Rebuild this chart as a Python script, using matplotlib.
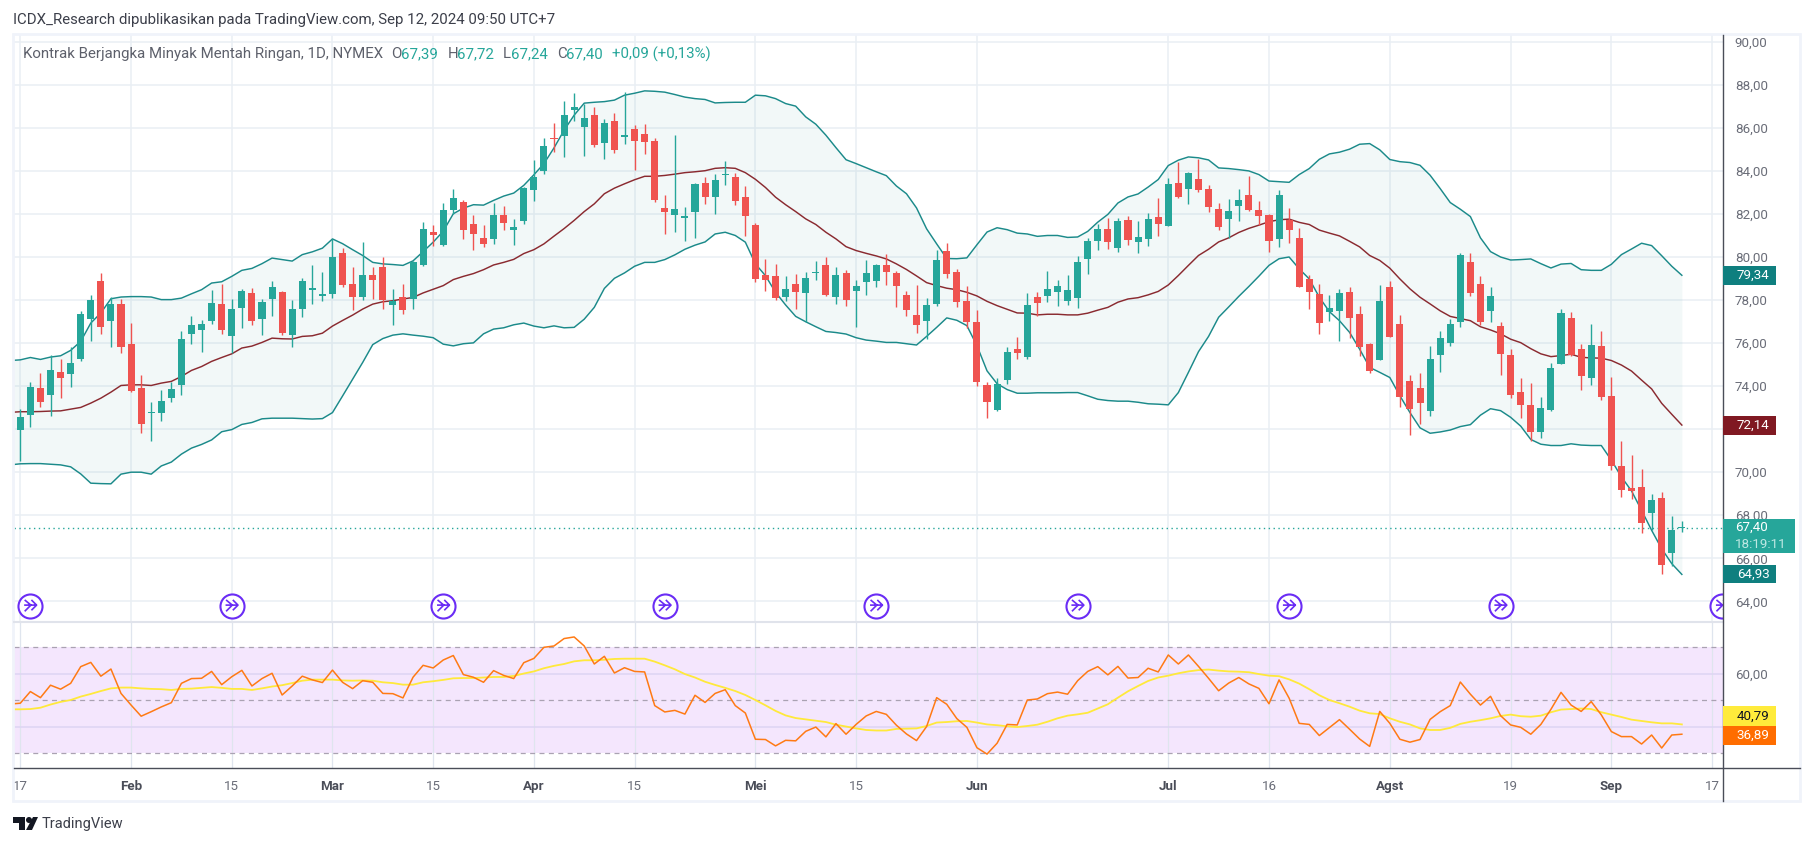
import matplotlib
matplotlib.use('Agg')
import matplotlib.pyplot as plt
from matplotlib.patches import Rectangle, Polygon, Circle
from matplotlib.path import Path

plt.rcParams['font.family'] = ['Roboto', 'DejaVu Sans']

opens = [71.98,72.68,73.92,73.57,74.67,74.54,75.27,77.10,78.90,77.01,
         77.83,75.97,73.92,72.75,72.73,73.47,74.03,76.40,76.59,77.01,
         77.83,76.31,77.61,78.34,77.10,78.06,78.39,76.36,77.60,78.46,
         78.18,78.28,80.19,78.75,78.14,79.16,79.54,77.77,78.14,78.06,
         79.63,81.17,80.56,82.19,82.57,81.54,80.89,80.84,81.96,81.26,
         81.68,83.12,84.01,85.50,85.64,86.85,86.06,86.62,85.31,86.34,
         85.59,85.97,85.73,85.41,82.29,81.96,81.82,82.10,83.45,82.80,
         83.80,83.73,82.80,81.49,79.16,79.12,78.14,78.75,78.33,79.24,
         79.63,78.14,79.26,78.42,78.84,78.89,79.63,79.26,78.24,77.31,
         77.03,77.82,80.29,79.31,77.96,76.98,74.05,72.88,74.28,75.72,
         75.35,78.15,78.19,78.38,77.96,78.10,79.92,80.75,81.31,80.43,
         81.73,80.71,80.85,81.87,81.45,83.46,83.18,83.64,83.18,82.25,
         81.78,82.39,82.90,82.20,81.97,80.85,81.73,80.89,78.98,78.29,
         77.45,77.49,78.38,77.35,75.96,75.21,78.61,76.89,74.23,73.91,
         72.84,75.44,76.00,76.98,79.78,78.75,77.49,76.80,75.45,73.73,
         73.12,71.86,72.89,75.03,77.17,75.73,74.38,75.87,73.54,70.28,
         69.25,69.30,68.09,68.79,66.23,67.39]
highs = [72.95,74.20,74.60,75.44,75.27,75.83,77.50,78.25,79.27,78.16,
         78.06,76.95,74.53,73.27,73.83,74.20,76.57,77.27,77.09,78.48,
         78.76,78.06,78.53,78.57,78.06,78.90,78.42,78.02,79.02,79.63,
         79.30,80.84,80.42,79.54,80.70,79.54,80.00,78.51,78.75,79.80,
         81.63,81.49,82.52,83.17,82.66,81.96,81.49,82.52,82.38,81.77,
         83.25,84.52,85.55,86.25,87.27,87.64,87.13,86.99,86.43,86.67,
         87.69,86.15,86.20,85.55,82.89,85.69,82.33,83.45,83.73,83.87,
         84.48,83.92,83.31,81.59,79.91,79.68,79.12,79.21,79.30,79.82,
         80.00,79.54,79.40,78.93,79.86,79.68,80.14,79.35,78.42,78.70,
         78.10,80.34,80.66,79.45,78.66,77.54,74.19,74.37,75.82,76.28,
         78.33,78.38,79.36,78.94,79.17,80.06,80.89,81.55,81.83,81.83,
         81.92,81.69,82.06,82.76,83.69,84.43,83.97,84.57,83.36,82.52,
         82.71,83.18,83.78,82.61,82.00,83.13,82.29,81.36,79.17,78.75,
         78.24,78.52,78.61,77.73,76.00,78.70,78.89,77.31,74.51,74.61,
         75.86,76.56,77.12,80.20,80.20,79.12,78.61,76.99,75.73,74.38,
         74.15,73.49,75.08,77.59,77.45,75.96,76.89,76.57,74.43,71.44,
         70.79,70.14,68.98,69.07,67.95,67.72]
lows = [70.54,72.12,73.01,72.59,73.43,73.94,75.19,76.08,76.40,75.84,
        75.52,73.71,71.80,71.43,72.40,73.24,73.57,75.94,75.57,76.87,
        76.40,75.52,76.68,76.82,76.36,77.24,76.36,75.84,77.22,77.83,
        77.97,78.11,78.61,77.53,78.00,78.05,77.58,76.84,77.35,77.58,
        79.58,80.52,80.53,82.01,80.84,80.33,80.47,80.61,81.26,80.56,
        81.54,82.61,83.87,84.89,84.66,86.34,84.71,85.13,84.57,84.85,
        85.27,84.06,84.80,82.57,81.07,81.17,80.75,80.89,82.47,82.01,
        83.36,82.43,80.98,78.84,78.42,78.00,77.95,77.58,76.98,78.93,
        78.19,77.81,77.72,76.74,78.23,78.61,78.70,77.67,77.26,76.47,
        76.19,77.73,79.03,77.68,76.70,74.00,72.51,72.84,74.09,75.26,
        75.26,77.26,77.91,77.73,77.77,77.63,79.22,80.34,80.38,80.24,
        80.57,80.20,80.52,80.99,81.45,82.76,82.48,83.04,82.11,81.27,
        80.89,81.69,82.15,81.50,80.24,80.48,80.66,78.61,77.59,76.42,
        77.03,76.10,76.24,75.40,74.61,75.21,76.28,73.02,71.72,72.23,
        72.60,74.65,75.86,76.75,78.19,76.84,76.98,74.52,73.45,72.52,
        71.44,71.58,72.84,75.03,75.40,73.82,74.05,73.35,70.09,68.84,
        68.74,67.16,67.30,65.25,65.62,67.24]
closes = [72.57,73.97,73.24,74.76,74.36,75.09,77.36,78.02,76.73,77.83,
          75.80,73.78,72.26,72.79,73.32,73.88,76.20,76.85,76.90,77.88,
          76.59,77.60,78.43,77.01,77.92,78.62,76.45,77.60,78.89,78.56,
          78.28,80.00,78.70,78.14,79.16,78.93,78.02,77.95,77.53,79.77,
          81.31,81.03,82.19,82.75,81.26,81.07,80.61,81.96,81.59,81.40,
          83.22,83.73,85.17,85.47,86.62,86.95,86.48,85.22,86.25,84.99,
          85.69,85.41,85.36,82.66,82.10,82.24,81.92,83.40,82.80,83.59,
          83.88,82.61,81.91,78.98,78.93,78.09,78.51,78.37,79.02,79.32,
          78.23,79.16,78.00,78.65,79.26,79.63,79.30,78.65,77.54,76.84,
          77.77,79.87,79.22,77.91,76.98,74.19,73.25,74.09,75.58,75.54,
          77.77,77.87,78.52,78.66,78.47,79.78,80.75,81.31,80.71,81.69,
          80.80,80.94,81.78,81.55,83.41,82.81,83.92,83.13,82.34,81.41,
          82.15,82.66,82.20,81.92,80.75,82.90,81.27,78.61,78.38,76.93,
          77.63,78.33,77.17,75.82,74.70,77.96,76.28,73.49,72.93,73.21,
          75.26,76.24,76.89,80.10,78.33,76.98,78.19,75.50,73.59,73.12,
          71.86,72.98,74.84,77.41,75.45,74.47,75.92,73.49,70.28,69.16,
          69.12,67.62,68.70,65.71,67.30,67.40]

# bollinger bands and rsi start one session before the first visible candle
bb_upper = [75.19,75.22,75.33,75.24,75.35,75.41,75.66,76.08,76.93,77.40,78.06,
            78.14,78.16,78.16,78.14,78.02,78.02,78.09,78.29,78.48,78.79,
            78.85,79.10,79.38,79.47,79.69,79.95,79.88,79.81,80.11,80.24,
            80.41,80.84,80.62,80.34,80.07,79.75,79.68,79.65,79.61,79.82,
            80.25,80.69,81.20,82.01,82.27,82.43,82.41,82.63,82.83,82.97,
            83.33,83.82,84.34,85.07,85.89,86.59,87.15,87.19,87.22,87.29,
            87.52,87.61,87.72,87.70,87.66,87.55,87.43,87.36,87.32,87.16,
            87.18,87.19,87.19,87.52,87.49,87.36,87.13,87.01,86.51,86.17,
            85.66,85.08,84.52,84.34,84.15,83.96,83.78,83.30,82.94,82.28,
            81.31,80.61,79.93,79.92,79.96,80.57,81.16,81.36,81.27,81.11,
            81.07,80.96,81.00,81.00,80.91,80.93,81.19,81.62,81.98,82.51,
            82.79,82.93,83.25,83.60,84.25,84.50,84.65,84.61,84.51,84.14,
            84.11,84.06,84.00,83.83,83.53,83.50,83.47,83.83,84.11,84.54,
            84.79,84.87,85.01,85.24,85.27,84.98,84.53,84.43,84.39,84.26,
            83.80,83.18,82.53,82.22,81.88,80.89,80.25,80.00,79.86,79.88,
            79.91,79.69,79.49,79.67,79.70,79.41,79.38,79.38,79.66,80.11,
            80.37,80.64,80.53,80.06,79.57,79.15]
bb_mid = [72.78,72.81,72.81,72.82,72.84,72.85,72.93,73.01,73.21,73.44,73.72,
          74.03,74.06,74.06,74.03,74.14,74.22,74.45,74.73,74.91,75.15,
          75.33,75.50,75.77,75.86,76.03,76.23,76.20,76.19,76.31,76.34,
          76.46,76.79,77.05,77.30,77.58,77.81,77.92,77.97,78.05,78.12,
          78.33,78.50,78.67,78.95,79.10,79.23,79.41,79.63,79.75,79.89,
          80.16,80.34,80.61,80.97,81.32,81.70,82.11,82.47,82.94,83.20,
          83.40,83.59,83.75,83.75,83.79,83.85,83.92,83.96,84.01,84.12,
          84.15,84.12,83.92,83.61,83.23,82.78,82.43,82.11,81.77,81.51,
          81.15,80.84,80.48,80.30,80.17,80.05,79.91,79.68,79.42,79.12,
          78.81,78.67,78.55,78.48,78.36,78.19,77.94,77.74,77.57,77.40,
          77.39,77.31,77.34,77.34,77.31,77.31,77.39,77.53,77.66,77.90,
          78.05,78.11,78.24,78.40,78.70,79.14,79.61,80.07,80.36,80.70,
          80.89,81.14,81.33,81.48,81.64,81.73,81.76,81.61,81.51,81.25,
          81.11,80.98,80.73,80.47,80.07,79.84,79.48,78.98,78.52,78.13,
          77.82,77.50,77.24,77.14,77.04,76.76,76.61,76.43,76.18,76.02,
          75.74,75.50,75.37,75.42,75.48,75.34,75.31,75.30,75.19,74.98,
          74.70,74.28,73.87,73.20,72.69,72.19]
bb_lower = [70.34,70.39,70.40,70.40,70.37,70.34,70.25,69.92,69.49,69.47,69.46,
            69.91,70.00,70.00,69.91,70.29,70.47,70.84,71.12,71.29,71.50,
            71.88,71.98,72.22,72.31,72.48,72.51,72.51,72.51,72.49,72.47,
            72.49,72.77,73.54,74.32,75.10,75.93,76.21,76.37,76.43,76.37,
            76.32,76.25,75.95,75.87,75.97,76.01,76.43,76.65,76.71,76.85,
            76.93,76.79,76.71,76.80,76.71,76.73,77.11,77.66,78.54,79.01,
            79.26,79.57,79.75,79.75,79.88,80.10,80.36,80.55,80.70,81.07,
            81.15,81.00,80.69,79.68,79.13,78.36,77.77,77.24,76.99,76.76,
            76.54,76.49,76.42,76.25,76.14,76.09,76.03,76.03,75.97,75.91,
            76.31,76.73,77.17,77.06,76.81,75.88,74.71,74.11,73.84,73.67,
            73.67,73.69,73.69,73.69,73.70,73.70,73.55,73.39,73.33,73.30,
            73.30,73.25,73.18,73.16,73.13,73.70,74.64,75.60,76.31,77.20,
            77.68,78.17,78.63,79.11,79.61,79.92,80.00,79.45,78.98,78.13,
            77.46,77.04,76.50,75.72,74.87,74.64,74.40,73.55,72.77,72.06,
            71.81,71.87,71.96,72.12,72.21,72.65,72.95,72.86,72.55,72.14,
            71.52,71.30,71.24,71.24,71.32,71.26,71.24,71.24,70.56,69.78,
            69.13,68.23,67.30,66.44,65.75,65.25]
rsi = [48.6,48.9,53.3,51.0,55.7,54.2,56.4,62.7,64.3,59.1,61.8,
       52.6,48.2,44.0,45.7,47.5,49.1,56.4,58.2,58.3,60.9,
       55.9,58.9,61.3,55.4,58.2,60.2,52.0,55.4,59.1,57.7,
       56.7,61.4,56.8,54.4,57.4,56.8,52.6,52.5,50.9,58.7,
       63.2,62.2,65.2,66.9,59.7,58.7,56.8,61.2,59.4,58.2,
       64.2,65.8,70.0,70.5,73.3,73.9,70.5,63.7,66.6,60.3,
       62.3,60.9,60.7,48.0,45.6,46.2,44.8,51.9,49.2,52.6,
       54.0,48.0,45.2,35.3,35.2,32.8,34.9,34.7,38.3,39.9,
       36.2,41.2,37.2,40.9,44.1,45.8,44.7,40.6,37.3,34.8,
       40.1,51.0,48.5,43.1,39.8,32.1,29.7,33.8,40.9,40.7,
       50.1,50.5,52.5,53.1,52.3,57.4,60.9,62.7,59.6,62.8,
       58.4,58.6,62.1,60.7,67.1,63.7,67.1,62.8,58.3,53.6,
       56.5,58.6,56.2,54.5,48.7,57.7,50.8,41.3,40.9,36.7,
       39.7,42.7,39.1,35.4,32.6,45.8,41.3,35.3,34.2,35.2,
       42.8,45.7,48.0,56.9,52.3,48.2,51.5,44.2,40.7,39.8,
       37.2,40.9,46.6,53.0,48.2,45.8,49.5,44.5,38.2,36.3,
       36.3,33.5,36.9,32.0,36.9,37.2]
rsi_ma = [46.6,46.6,46.7,47.2,48.4,49.4,50.1,51.4,52.4,53.5,54.5,
          54.8,54.8,54.5,54.3,54.2,53.9,54.3,54.4,54.7,55.0,
          54.7,54.3,54.3,53.9,54.5,55.2,55.7,56.5,57.4,57.8,
          57.8,57.8,57.5,57.4,57.5,57.4,56.8,56.5,55.9,55.9,
          56.8,57.2,57.7,58.3,58.4,58.4,58.6,58.8,58.8,59.2,
          60.1,60.9,62.1,63.0,63.7,64.7,65.1,65.1,65.3,65.6,
          65.7,65.7,65.7,64.6,63.2,61.7,59.9,58.6,57.0,55.8,
          54.7,53.5,52.0,50.1,48.1,46.0,44.3,43.3,42.8,42.3,
          41.8,40.8,40.1,39.4,38.8,38.6,38.6,39.2,39.3,39.4,
          40.3,41.6,41.8,42.1,42.2,41.6,40.9,40.6,40.2,39.9,
          40.3,40.8,41.9,43.2,44.2,44.7,45.3,46.9,48.5,51.0,
          53.4,55.4,57.3,58.6,59.3,60.2,60.9,61.4,61.6,61.2,
          60.9,60.8,60.6,59.9,59.3,59.1,57.9,56.3,54.2,51.9,
          50.1,48.9,47.6,46.1,45.1,44.8,43.2,41.9,40.9,39.4,
          38.8,38.8,39.6,41.1,41.9,42.5,43.2,44.1,44.6,44.0,
          43.8,44.2,45.5,46.5,46.7,46.9,46.7,45.5,44.6,43.7,
          42.7,42.2,41.7,41.3,41.3,40.9]

price_ticks = [90,88,86,84,82,80,78,76,74,72,70,68,66,64]
# 72,00 is hidden behind the 72,14 tag in the original
price_labels = ['90,00','88,00','86,00','84,00','82,00','80,00','78,00','76,00','74,00','','70,00','68,00','66,00','64,00']
date_ticks = [0,11,21,31,41,51,61,73,83,95,114,124,136,148,158,168]
date_labels = ['17','Feb','15','Mar','15','Apr','15','Mei','15','Jun','Jul','16','Agst','19','Sep','17']
event_sessions = [1,21,42,64,85,105,126,147,169]
rsi_lines = [70,50,30]
rsi_grid = [60,40]

GREEN = '#26a69a'
RED = '#ef5350'
TEAL = '#1b8a8a'
MAROON = '#801922'
GRID = '#e9eff4'
W, H = 1814, 846

fig = plt.figure(figsize=(W/100, H/100), dpi=100, facecolor='white')

def box(left, top, right, bottom):
    return [left/W, 1-bottom/H, (right-left)/W, (bottom-top)/H]

# session index -> pixel is 20.3 + 10.07*i
x_lim = ((14-20.3)/10.07, (1723-20.3)/10.07)

ax = fig.add_axes(box(14, 35, 1723, 622))
ax.set_xlim(*x_lim)
ax.set_ylim(80-(622-257)/21.52, 80+(257-35)/21.52)
ax.set_yticks(price_ticks)
ax.set_yticklabels(price_labels, color='#6a6d78', fontsize=9.6)
ax.yaxis.tick_right()
ax.tick_params(axis='y', length=0, pad=8.5)
ax.set_xticks(date_ticks)
ax.tick_params(axis='x', length=0, labelbottom=False)
ax.grid(color=GRID, lw=1.1)
ax.set_axisbelow(True)
for s in ax.spines.values():
    s.set_visible(False)

bb_x = list(range(-1, len(opens)))
ax.fill_between(bb_x, bb_lower, bb_upper, color='#138484', alpha=0.05, lw=0)
ax.plot(bb_x, bb_upper, color=TEAL, lw=1.05)
ax.plot(bb_x, bb_lower, color=TEAL, lw=1.05)
ax.plot(bb_x, bb_mid, color='#8a2a30', lw=1.05)

sessions = list(range(len(opens)))
colors = [GREEN if c >= o else RED for o, c in zip(opens, closes)]
ax.vlines(sessions, lows, highs, colors=colors, lw=1.0, zorder=3)
# very small bodies still show as a thin bar
ax.bar(sessions, [max(abs(c-o), 0.07) for o, c in zip(opens, closes)],
       bottom=[min(o, c) for o, c in zip(opens, closes)],
       width=0.7, color=colors, lw=0, zorder=3)
ax.axhline(closes[-1], color=GREEN, lw=1.0, ls=(0, (1, 2.5)), zorder=2)

# split/rollover icons sit just above the bottom of the price pane
arrow = Path([(-0.55, 0.55), (0.05, 0.05), (-0.55, -0.55), (-0.6, 0.05), (0.6, 0.05),
              (0.1, 0.55), (0.6, 0.05), (0.1, -0.45)],
             [Path.MOVETO, Path.LINETO, Path.LINETO, Path.MOVETO, Path.LINETO,
              Path.MOVETO, Path.LINETO, Path.LINETO])
icon_y = [63.8]*len(event_sessions)
ax.scatter(event_sessions, icon_y, s=300, facecolor='white', edgecolor='#6a2cf5', lw=1.5, zorder=4)
ax.scatter(event_sessions, icon_y, s=80, marker=arrow, facecolor='none', edgecolor='#6a2cf5', lw=1.2, zorder=5)

ax2 = fig.add_axes(box(14, 622, 1723, 767.7))
ax2.set_xlim(*x_lim)
ax2.set_ylim(30-(767.7-753.3)/2.65, 70+(647.3-622)/2.65)
ax2.axhspan(30, 70, color='#f4e6fd', lw=0, zorder=0)
ax2.set_xticks(date_ticks)
ax2.set_xticklabels(date_labels, fontsize=9.6, color='#6a6d78')
for t, lab in zip(ax2.get_xticklabels(), date_labels):
    if not lab.isdigit():
        t.set_fontweight('bold')
        t.set_color('#4a4d58')
ax2.tick_params(axis='x', length=0, pad=9)
ax2.set_yticks([60])
ax2.set_yticklabels(['60,00'], color='#6a6d78', fontsize=9.6)
ax2.yaxis.tick_right()
ax2.tick_params(axis='y', length=0, pad=8.5)
ax2.grid(axis='x', color='#dfe5ee', lw=0.9, zorder=1)
for v in rsi_grid:
    ax2.axhline(v, color='#ddd5f3', lw=1.1, zorder=1)
for v in rsi_lines:
    ax2.axhline(v, color='#aaa2b2', lw=0.9, ls=(0, (4, 3.5)), zorder=1)
ax2.set_axisbelow(True)
ax2.plot(bb_x, rsi_ma, color='#ffe93b', lw=1.3, zorder=3)
ax2.plot(bb_x, rsi, color='#ff7a14', lw=1.1, zorder=4)
for s in ax2.spines.values():
    s.set_visible(False)

# everything outside the two panes goes on a full-figure pixel overlay
ov = fig.add_axes([0, 0, 1, 1], zorder=10)
ov.set_xlim(0, W)
ov.set_ylim(H, 0)
ov.axis('off')
ov.patch.set_visible(False)

ov.add_patch(Rectangle((13, 34), 1787, 767.5, fill=False, ec='#f0f3fa', lw=2.0))
ov.plot([14, 1723], [622, 622], color='#e0e3eb', lw=1.5)
ov.plot([14, 1800], [767.7, 767.7], color='#4a4d58', lw=1.0)
ov.plot([1723, 1723], [35, 801], color='#4a4d58', lw=1.0)

ov.text(13, 20, 'ICDX_Research dipublikasikan pada TradingView.com, Sep 12, 2024 09:50 UTC+7',
        color='#3c3f4a', fontsize=10.8, va='center')
ov.text(23, 54, 'Kontrak Berjangka Minyak Mentah Ringan, 1D, NYMEX', color='#5d606b', fontsize=10.8, va='center')
for x, off, head, val in [(391, 10, 'O', '67,39'), (448, 9, 'H', '67,72'), (503, 8, 'L', '67,24'), (557, 9, 'C', '67,40')]:
    ov.text(x, 54, head, color='#5d606b', fontsize=10.8, va='center')
    ov.text(x+off, 54, val, color=GREEN, fontsize=10.8, va='center')
ov.text(612, 54, '+0,09 (+0,13%)', color=GREEN, fontsize=10.8, va='center')

# value tags on the price scale
def tag(top, bottom, right, bg, text, fg='white'):
    ov.add_patch(Rectangle((1723, top), right-1723, bottom-top, color=bg, lw=0, zorder=3))
    ov.text(1753, (top+bottom)/2, text, color=fg, fontsize=9.6, ha='center', va='center', zorder=4)

tag(266, 285, 1775.5, '#0f7f7f', '79,34')
tag(416, 435, 1775.5, MAROON, '72,14')
tag(565, 583, 1775.5, '#0f7f7f', '64,93')
tag(706, 726, 1776, '#ffeb3b', '40,79', '#131722')
tag(726, 745, 1776, '#ff6d00', '36,89')
ov.add_patch(Rectangle((1723, 519), 72, 34, color=GREEN, lw=0, zorder=3))
ov.text(1735, 527, '67,40', color='white', fontsize=9.6, va='center', zorder=4)
ov.text(1735, 544, '18:19:11', color='#bfe8e3', fontsize=9.6, va='center', zorder=4)

# logo + wordmark
ov.add_patch(Polygon([(13, 817), (25, 817), (25, 830), (19, 830), (19, 823), (13, 823)], color='#131722', lw=0))
ov.add_patch(Circle((29, 820), 3, color='#131722', lw=0))
ov.add_patch(Polygon([(33, 817), (38, 817), (32, 830), (26, 830)], color='#131722', lw=0))
ov.text(42, 824, 'TradingView', color='#3c3f4a', fontsize=10.5, va='center')

fig.savefig('out.png', dpi=100)
